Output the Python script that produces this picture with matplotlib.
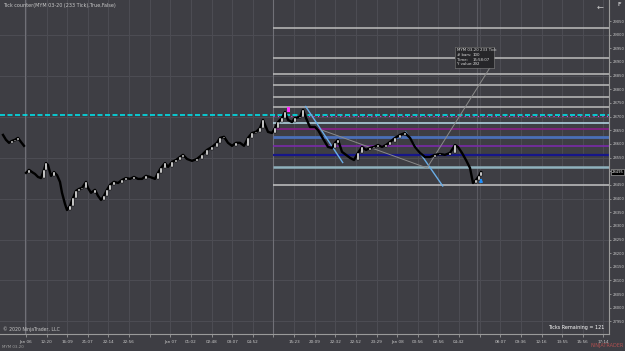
import numpy as np
import matplotlib
matplotlib.use('Agg')
import matplotlib.pyplot as plt
from matplotlib.patches import Rectangle

W, H = 625, 351
bg = '#3e3e44'
grid_c = '#4c4c53'
txt_c = '#c8c8c8'

# 233 tick bars: bar slot and close
bar_no = [3, 6, 9, 12, 15, 18, 21, 24,
          26, 29, 32, 35, 38, 41, 44, 46, 48, 51,
          54, 57, 60, 62, 65, 67, 70, 73, 76, 79,
          82, 86, 88, 91, 95, 98, 101, 104, 107, 110,
          114, 118, 122, 126, 130, 134, 138, 142, 146, 150,
          155, 158, 161, 165, 168, 172, 176, 180, 183, 187,
          192, 197, 202, 207, 212, 217, 220, 224, 228, 232,
          236, 240, 244, 248, 252, 256, 260, 263, 265, 268,
          272, 275, 278, 282, 285, 288, 292, 295, 300, 303,
          306, 310, 315, 318, 322, 325, 328, 332, 335, 338,
          342, 346, 350, 354, 358, 362, 366, 370, 374, 378,
          382, 386, 390, 395, 400, 405, 410, 415, 420, 425,
          430, 435, 440, 445, 450, 455, 458, 462, 466, 470,
          473, 476, 479, 481]
close = [28633, 28615, 28604, 28611, 28615, 28622, 28607, 28593,
         28494, 28505, 28497, 28490, 28479, 28475, 28505, 28530, 28523, 28483,
         28497, 28486, 28461, 28421, 28380, 28358, 28373, 28402, 28428, 28435,
         28439, 28461, 28439, 28421, 28432, 28410, 28395, 28410, 28432, 28450,
         28461, 28457, 28468, 28475, 28472, 28479, 28472, 28472, 28483, 28479,
         28472, 28494, 28512, 28530, 28516, 28534, 28541, 28552, 28560, 28545,
         28538, 28545, 28560, 28578, 28589, 28604, 28622, 28626, 28604, 28593,
         28604, 28604, 28593, 28622, 28640, 28644, 28658, 28688, 28670, 28644,
         28640, 28658, 28680, 28695, 28717, 28688, 28680, 28695, 28699, 28725,
         28695, 28662, 28662, 28651, 28626, 28607, 28589, 28585, 28604, 28615,
         28571, 28560, 28549, 28541, 28567, 28589, 28578, 28585, 28589, 28596,
         28589, 28596, 28607, 28622, 28633, 28640, 28622, 28589, 28567, 28552,
         28552, 28560, 28563, 28560, 28567, 28596, 28589, 28567, 28541, 28512,
         28457, 28468, 28483, 28497]
session_split = 8

# drawn horizontal levels: price, colour, width
levels = [29026, 28916, 28855, 28816, 28773, 28737, 28676, 28654, 28627,
          28593, 28560, 28517, 28449]
level_colors = ['#bdbdbd', '#bdbdbd', '#bdbdbd', '#bdbdbd', '#bdbdbd', '#bdbdbd',
                '#b8dcea', '#8a1e8a', '#4a6fb8', '#7a2aa8', '#16168a', '#8fb1bd',
                '#c4c4c4']
level_widths = [1.1, 1.1, 1.1, 1.1, 1.1, 1.1, 1.1, 1.2, 2.0, 1.2, 1.6, 1.8, 1.1]
cyan_level = 28707

# drawn trend lines (bar slot, price)
blue_line1 = ([305.7, 342.7], [28737, 28532])
blue_line2 = ([405.7, 442.7], [28643, 28446])
gray_path = ([321.7, 427, 493], [28651, 28512, 28897])

price_ticks = np.arange(27950, 29051, 50)
time_labels = ["Jan 06", "12:20", "16:09", "21:07", "22:14", "22:56", "", "Jan 07",
               "01:02", "02:48", "03:07", "04:52", "", "15:23", "20:09", "22:32",
               "22:52", "23:29", "Jan 08", "00:56", "02:56", "04:42", "", "08:07",
               "09:36", "12:16", "13:55", "15:56", "17:14"]

fig = plt.figure(figsize=(W / 100, H / 100), dpi=100, facecolor=bg)
ax = fig.add_axes([0, 17 / H, 609 / W, 334 / H])
ax.set_facecolor(bg)
ax.set_xlim(0, 609)
ax.set_ylim(27904, 29127)

# grid
xt = np.arange(26, 610, 20.62)
for x in xt:
    ax.axvline(x, color=grid_c, lw=0.8, zorder=0)
for p in np.arange(27950, 29100, 150):
    ax.axhline(p, color=grid_c, lw=0.8, zorder=0)
# session breaks
ax.axvline(24.5, color='#707077', lw=0.8, zorder=0.5)
ax.axvline(273, color='#707077', lw=0.8, zorder=0.5)
ax.axvline(477, color='#5a5a61', lw=0.8, zorder=0.5)

# levels
start = 273
for p, c, w in zip(levels, level_colors, level_widths):
    ax.hlines(p, start, 609, color=c, lw=w, zorder=1)
ax.axhline(cyan_level, color='#00e0e8', lw=1.2, ls=(0, (3, 1.5)), zorder=1.2)
ax.hlines(cyan_level - 3, start, 609, color='#e040e0', lw=0.8, ls=(0, (1, 3)), zorder=1.1)

ax.plot(*blue_line1, color='#6aaee8', lw=1.0, zorder=2)
ax.plot(*blue_line2, color='#6aaee8', lw=1.0, zorder=2)
ax.plot(*gray_path, color='#8a8a8a', lw=0.7, zorder=2)

# bars
s = session_split
ax.plot(bar_no[:s], close[:s], color='black', lw=1.7, zorder=3)
ax.plot(bar_no[s:], close[s:], color='black', lw=1.7, zorder=3)
for i in range(1, len(close)):
    if i == s:
        continue
    o, c = close[i - 1], close[i]
    if c > o:
        ax.add_patch(Rectangle((bar_no[i] - 0.9, o), 1.8, c - o, facecolor='white',
                               edgecolor='black', lw=0.35, zorder=4))

# markers
ax.add_patch(Rectangle((287, 28717), 2.5, 18, facecolor='#ff30ff', edgecolor='none', zorder=5))
ax.annotate('', xy=(481, 28475), xytext=(481, 28455),
            arrowprops=dict(arrowstyle='-|>', color='#1e90ff', lw=1.2, mutation_scale=4), zorder=5)

# axes styling
for sp in ['top', 'left']:
    ax.spines[sp].set_visible(False)
ax.spines['bottom'].set_color('#9a9a9a')
ax.spines['right'].set_color('#9a9a9a')
ax.yaxis.tick_right()
ax.set_yticks(price_ticks)
ax.set_yticklabels([str(p) for p in price_ticks])
ax.set_xticks(xt)
ax.set_xticklabels(time_labels)
ax.tick_params(axis='y', colors='#9a9a9a', labelcolor=txt_c, labelsize=2.7, length=1.5, pad=1, width=0.6)
ax.tick_params(axis='x', colors='#9a9a9a', labelcolor=txt_c, labelsize=3.0, length=2, pad=2, width=0.6)

# current price box
ax.text(1.004, (28497 - 27904) / (29127 - 27904), '28495', transform=ax.transAxes,
        fontsize=2.7, color='white', va='center', ha='left',
        bbox=dict(boxstyle='square,pad=0.2', fc='black', ec='#bbbbbb', lw=0.4), clip_on=False)


def ftext(x, y, s, **kw):
    fig.text(x / W, 1 - y / H, s, **kw)


ftext(3, 5, 'Tick counter(MYM 03-20 (233 Tick),True,False)', fontsize=3.5, color=txt_c, va='center')
ftext(3, 329, '\u00a9 2020 NinjaTrader, LLC', fontsize=3.3, color=txt_c, va='center')
ftext(604, 327, 'Ticks Remaining = 121', fontsize=3.5, color='white', va='center', ha='right')
ftext(2, 347, 'MYM 03-20', fontsize=2.8, color='#a0a0a0', va='center')
ftext(624, 346, 'NINJATRADER', fontsize=3.6, color='#b05050', va='center', ha='right')
ftext(600, 7, '\u2190', fontsize=6, color=txt_c, va='center', ha='center')
ftext(619, 5, 'F', fontsize=4.5, color='white', va='center', ha='center')

# tooltip
tip = fig.add_axes([455 / W, 1 - 68 / H, 39 / W, 21 / H])
tip.set_facecolor('#262629')
tip.set_xticks([])
tip.set_yticks([])
for sp in tip.spines.values():
    sp.set_color('#707070')
    sp.set_linewidth(0.5)
tip_lines = [('MYM 03-20 233 Tick', ''), ('# bars:', '100'), ('Time:', '15:58:07'), ('Y value:', '292')]
for k, (a, b) in enumerate(tip_lines):
    yy = 0.84 - k * 0.22
    tip.text(0.06, yy, a, fontsize=2.8, color='#dddddd', va='center', transform=tip.transAxes)
    if b:
        tip.text(0.45, yy, b, fontsize=2.8, color='#dddddd', va='center', transform=tip.transAxes)

fig.savefig('out.png', dpi=100, facecolor=bg)
